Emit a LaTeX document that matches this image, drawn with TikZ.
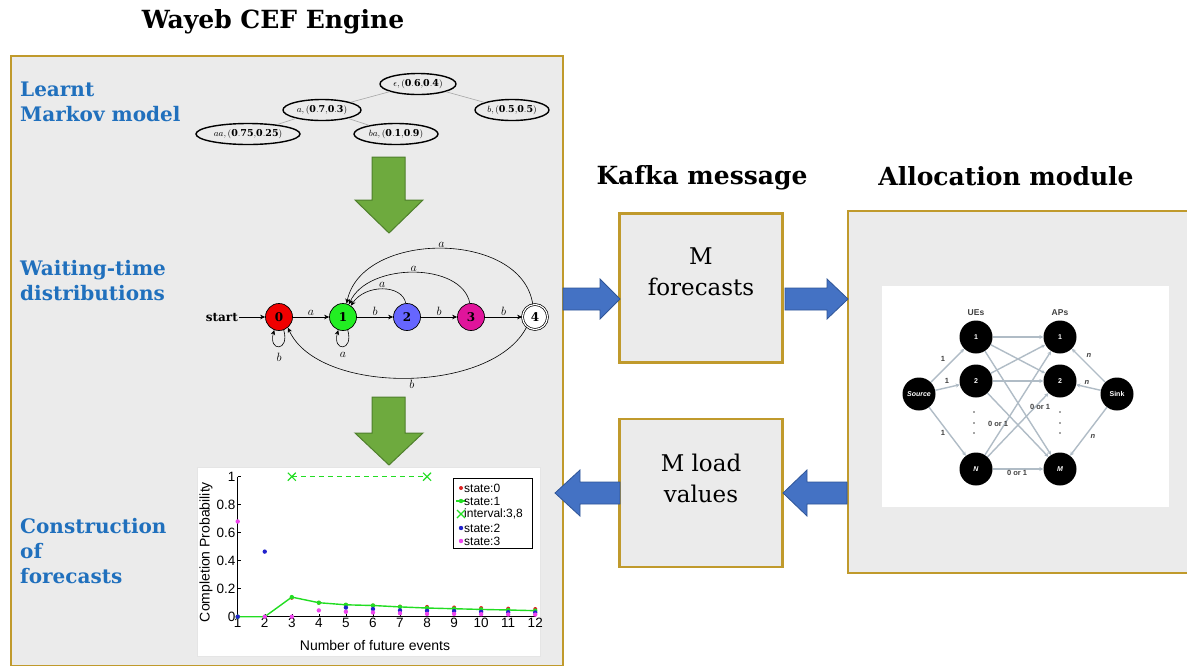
\documentclass[tikz,border=0pt]{standalone}
\usepackage{fontspec}
\setmainfont{DejaVu Serif}
\newfontfamily\chartfont{Liberation Sans}
\usetikzlibrary{shapes.geometric,arrows.meta,calc}
\definecolor{gold}{HTML}{C09A2C}
\definecolor{panelgray}{HTML}{EBEBEB}
\definecolor{labelblue}{HTML}{2070BD}
\definecolor{arrblue}{HTML}{4472C4}
\definecolor{arrblueb}{HTML}{2F5597}
\definecolor{arrgreen}{HTML}{6EAA3E}
\definecolor{arrgreenb}{HTML}{4F7F2C}
\definecolor{sred}{HTML}{F00000}
\definecolor{sgreen}{HTML}{22EE22}
\definecolor{sblue}{HTML}{6666FF}
\definecolor{smag}{HTML}{E0149B}
\definecolor{cgreen}{HTML}{22DD22}
\definecolor{cred}{HTML}{DD2222}
\definecolor{cblue}{HTML}{2222CC}
\definecolor{cmag}{HTML}{EE44EE}
\definecolor{netgray}{HTML}{B0BCC6}
\begin{document}
\begin{tikzpicture}[x=1pt,y=-1pt,
  panel/.style={draw=gold, line width=2.2pt, fill=panelgray, inner sep=0pt},
  ttl/.style={font=\bfseries\fontsize{25}{30}\selectfont},
  side/.style={font=\bfseries\fontsize{20}{25}\selectfont, text=labelblue, align=left, anchor=west, inner sep=0pt},
  msgtext/.style={font=\fontsize{23}{31}\selectfont, align=center},
  tree/.style={ellipse, draw=black, line width=1.4pt, fill=panelgray, inner sep=1pt, minimum height=21pt, font=\fontsize{9.5}{12}\selectfont},
  treeedge/.style={draw=gray!70, line width=0.6pt},
  st/.style={circle, draw=black, line width=0.7pt, minimum size=27pt, inner sep=0pt, font=\fontsize{12}{14}\selectfont},
  aut/.style={-{Stealth[length=5pt,width=4.5pt]}, line width=0.6pt},
  elab/.style={font=\fontsize{12}{14}\selectfont, inner sep=1pt},
  blockblue/.style={fill=arrblue, draw=arrblueb, line width=0.8pt},
  blockgreen/.style={fill=arrgreen, draw=arrgreenb, line width=1pt},
  tick/.style={font=\chartfont\fontsize{13.5}{15}\selectfont, inner sep=1pt},
  leg/.style={font=\chartfont\fontsize{12}{13}\selectfont, anchor=west, inner sep=0pt},
  net/.style={draw=netgray, line width=1.4pt, -{Stealth[length=4pt,width=4pt]}},
  netnode/.style={circle, fill=black, minimum size=33pt, inner sep=0pt, text=white, font=\chartfont\bfseries\fontsize{7}{8}\selectfont},
  netlab/.style={font=\chartfont\bfseries\fontsize{7.5}{9}\selectfont, text=black!75, inner sep=1pt}
]
\useasboundingbox (0,0) rectangle (1187,665);
\fill[white] (0,0) rectangle (1187,665);

% ================= left panel =================
\node[panel, anchor=north west, minimum width=552pt, minimum height=610pt] (cef) at (10,55) {};
\node[ttl] (cefT) at (273,22) {Wayeb CEF Engine};
\node[side] (l1) at (20,102) {Learnt\\Markov model};
\node[side] (l2) at (20,281) {Waiting-time\\distributions};
\node[side] (l3) at (20,551) {Construction\\of\\forecasts};

% Markov tree
\node[tree, minimum width=76pt] (te) at (418,84) {$\epsilon,(\mathbf{0.6{,}0.4})$};
\node[tree, minimum width=78pt] (ta) at (322,110) {$a,(\mathbf{0.7{,}0.3})$};
\node[tree, minimum width=74pt] (tb) at (512,110) {$b,(\mathbf{0.5{,}0.5})$};
\node[tree, minimum width=104pt] (taa) at (248,134) {$aa,(\mathbf{0.75{,}0.25})$};
\node[tree, minimum width=84pt] (tba) at (396,134) {$ba,(\mathbf{0.1{,}0.9})$};
\draw[treeedge] (te) -- (ta);
\draw[treeedge] (te) -- (tb);
\draw[treeedge] (ta) -- (taa);
\draw[treeedge] (ta) -- (tba);

% green arrows
\draw[blockgreen] (372,157) -- (405,157) -- (405,200) -- (423,200) -- (389,233) -- (355,200) -- (372,200) -- cycle;
\draw[blockgreen] (372,397) -- (405,397) -- (405,433) -- (423,433) -- (389,465) -- (355,433) -- (372,433) -- cycle;

% automaton
\node[st, fill=sred] (n0) at (279,317) {$\mathbf{0}$};
\node[st, fill=sgreen] (n1) at (343,317) {$\mathbf{1}$};
\node[st, fill=sblue] (n2) at (407,317) {$\mathbf{2}$};
\node[st, fill=smag] (n3) at (471,317) {$\mathbf{3}$};
\node[st, fill=white, double, double distance=1.2pt, minimum size=25pt] (n4) at (535,317) {$\mathbf{4}$};
\node[font=\fontsize{12}{14}\selectfont, anchor=east, inner sep=1pt] (start) at (239,317) {$\mathbf{start}$};
\draw[aut] (start) -- (n0);
\draw[aut] (n0) -- node[elab, above] {$a$} (n1);
\draw[aut] (n1) -- node[elab, above] {$b$} (n2);
\draw[aut] (n2) -- node[elab, above] {$b$} (n3);
\draw[aut] (n3) -- node[elab, above] {$b$} (n4);
\draw[aut] (n2.95) .. controls (402,284) and (365,284) .. (n1.55) node[elab, pos=0.5, above] {$a$};
\draw[aut] (n3.95) .. controls (462,262) and (368,262) .. (n1.65) node[elab, pos=0.5, above] {$a$};
\draw[aut] (n4.100) .. controls (522,230) and (362,230) .. (n1.75) node[elab, pos=0.5, above] {$a$};
\draw[aut] (n4.-130) .. controls (492,395) and (318,395) .. (n0.-50) node[elab, pos=0.48, below=1pt] {$b$};
\draw[aut] (n0.-70) .. controls (290,352) and (268,352) .. (n0.-110);
\node[elab] (lb0) at (279,357) {$b$};
\draw[aut] (n1.-70) .. controls (354,352) and (332,352) .. (n1.-110);
\node[elab] (la1) at (343,355) {$a$};

% chart
\node[fill=white, draw=black!10, line width=0.5pt, anchor=north west, minimum width=343pt, minimum height=189pt] (chart) at (197,467) {};
\begin{scope}[shift={(237.7,616.7)}, x=27.05pt, y=140pt]
  \coordinate (origin) at (0,0);
  \draw[line width=0.7pt] (0,1) -- (origin) -- (11,0);
  \foreach \k in {1,...,12} {
    \draw[line width=0.5pt] (\k-1,0) -- ++(0,3pt);
    \node[tick, below] at (\k-1,0) {\k};
  }
  \foreach \p/\t in {0/0,0.2/0.2,0.4/0.4,0.6/0.6,0.8/0.8,1/1} {
    \draw[line width=0.5pt] (0,\p) -- ++(3pt,0);
    \node[tick, left=1pt] at (0,\p) {\t};
  }
  % red state:0
  \foreach \x/\y in {3/0.135,4/0.1,5/0.085,6/0.08,7/0.072,8/0.07,9/0.066,10/0.062,11/0.058,12/0.055}
    \fill[cred] (\x-1,\y) circle (2pt);
  % green state:1
  \draw[cgreen, line width=1.4pt] (0,0) -- (1,0) -- (2,0.14) -- (3,0.1) -- (4,0.085) -- (5,0.08) -- (6,0.07) -- (7,0.062) -- (8,0.057) -- (9,0.052) -- (10,0.048) -- (11,0.043);
  \foreach \x/\y in {1/0,2/0,3/0.14,4/0.1,5/0.085,6/0.08,7/0.07,8/0.062,9/0.057,10/0.052,11/0.048,12/0.043}
    \fill[cgreen] (\x-1,\y) circle (2.2pt);
  % interval
  \draw[cgreen, line width=1.1pt, dash pattern=on 5pt off 4pt] (2,1) -- (7,1);
  \foreach \x in {2,7} {
    \draw[cgreen, line width=1.1pt] (\x,1) ++(-4pt,-4pt) -- ++(8pt,8pt) ++(0,-8pt) -- ++(-8pt,8pt);
  }
  % blue state:2
  \foreach \x/\y in {1/0,2/0.465,5/0.065,6/0.055,7/0.045,8/0.042,9/0.04,10/0.035,11/0.032,12/0.03}
    \fill[cblue] (\x-1,\y) circle (2.2pt);
  % magenta state:3
  \foreach \x/\y in {1/0.68,2/0,3/0,4/0.045,5/0.035,6/0.03,7/0.025,8/0.02,9/0.02,10/0.018,11/0.016,12/0.015}
    \fill[cmag] (\x-1,\y) circle (2.2pt);
\end{scope}
\node[font=\chartfont\fontsize{14}{16}\selectfont, inner sep=0pt] (xlab) at (375,645) {Number of future events};
\node[font=\chartfont\fontsize{14}{16}\selectfont, inner sep=0pt, rotate=90] (ylab) at (206,552) {Completion Probability};
% legend
\node[draw=black, line width=0.8pt, fill=white, anchor=north west, minimum width=79pt, minimum height=70pt] (legend) at (453,478) {};
\fill[cred] (461,488) circle (2pt);
\node[leg] at (464,488) {state:0};
\draw[cgreen, line width=1.2pt] (456,501) -- (466,501);
\fill[cgreen] (461,501) circle (2.2pt);
\node[leg] at (464,501) {state:1};
\draw[cgreen, line width=1.1pt] (457,510) -- (465,518) (457,518) -- (465,510);
\node[leg] at (464,514) {interval:3,8};
\fill[cblue] (461,528) circle (2.2pt);
\node[leg] at (464,528) {state:2};
\fill[cmag] (461,541) circle (2.2pt);
\node[leg] at (464,541) {state:3};

% ================= middle =================
\node[ttl] (kafkaT) at (702,178) {Kafka message};
\node[panel, minimum width=163pt, minimum height=149pt] (mf) at (701,288) {};
\node[msgtext] (mfT) at (701,272) {M\\forecasts};
\node[panel, minimum width=163pt, minimum height=148pt] (ml) at (701,493) {};
\node[msgtext] (mlT) at (701,478) {M load\\values};

% ================= right =================
\node[ttl] (allocT) at (1006,176) {Allocation module};
\node[panel, anchor=north west, minimum width=350pt, minimum height=362pt] (alloc) at (847,210) {};

% blue block arrows
\draw[blockblue] (563,288) -- (600,288) -- (600,279) -- (620,299) -- (600,319) -- (600,310) -- (563,310) -- cycle;
\draw[blockblue] (785,288) -- (827,288) -- (827,279) -- (848,299) -- (827,319) -- (827,310) -- (785,310) -- cycle;
\draw[blockblue] (620,482) -- (580,482) -- (580,470) -- (555,493) -- (580,516) -- (580,504) -- (620,504) -- cycle;
\draw[blockblue] (847,482) -- (807,482) -- (807,470) -- (783,493) -- (807,516) -- (807,504) -- (847,504) -- cycle;

% network inset
\node[fill=white, anchor=north west, minimum width=287pt, minimum height=221pt, inner sep=0pt] (inset) at (882,286) {};
\node[netnode] (src) at (919,394) {\itshape Source};
\node[netnode] (u1) at (976,337) {1};
\node[netnode] (u2) at (976,381) {2};
\node[netnode] (un) at (976,469) {\itshape N};
\node[netnode] (a1) at (1060,337) {1};
\node[netnode] (a2) at (1060,381) {2};
\node[netnode] (am) at (1060,469) {\itshape M};
\node[netnode] (sink) at (1117,394) {Sink};
\node[netlab, font=\chartfont\bfseries\fontsize{8.5}{10}\selectfont] (ueT) at (976,313) {UEs};
\node[netlab, font=\chartfont\bfseries\fontsize{8.5}{10}\selectfont] (apT) at (1060,313) {APs};
\draw[net] (src) -- (u1);
\draw[net] (src) -- (u2);
\draw[net] (src) -- (un);
\foreach \u in {u1,u2,un} \foreach \a in {a1,a2,am} \draw[net] (\u) -- (\a);
\draw[net] (sink) -- (a1);
\draw[net] (sink) -- (a2);
\draw[net] (sink) -- (am);
\node[netlab] at (943,359) {1};
\node[netlab] at (947,381) {1};
\node[netlab] at (943,433) {1};
\node[netlab] at (998,424) {0 or 1};
\node[netlab] at (1040,407) {0 or 1};
\node[netlab] at (1017,473) {0 or 1};
\node[netlab, font=\chartfont\bfseries\itshape\fontsize{7.5}{9}\selectfont] at (1089,355) {n};
\node[netlab, font=\chartfont\bfseries\itshape\fontsize{7.5}{9}\selectfont] at (1087,382) {n};
\node[netlab, font=\chartfont\bfseries\itshape\fontsize{7.5}{9}\selectfont] at (1093,436) {n};
\foreach \y in {412,423,433} {
  \fill[black!70] (974,\y) circle (0.8pt);
  \fill[black!70] (1060,\y) circle (0.8pt);
}
\end{tikzpicture}
\end{document}
